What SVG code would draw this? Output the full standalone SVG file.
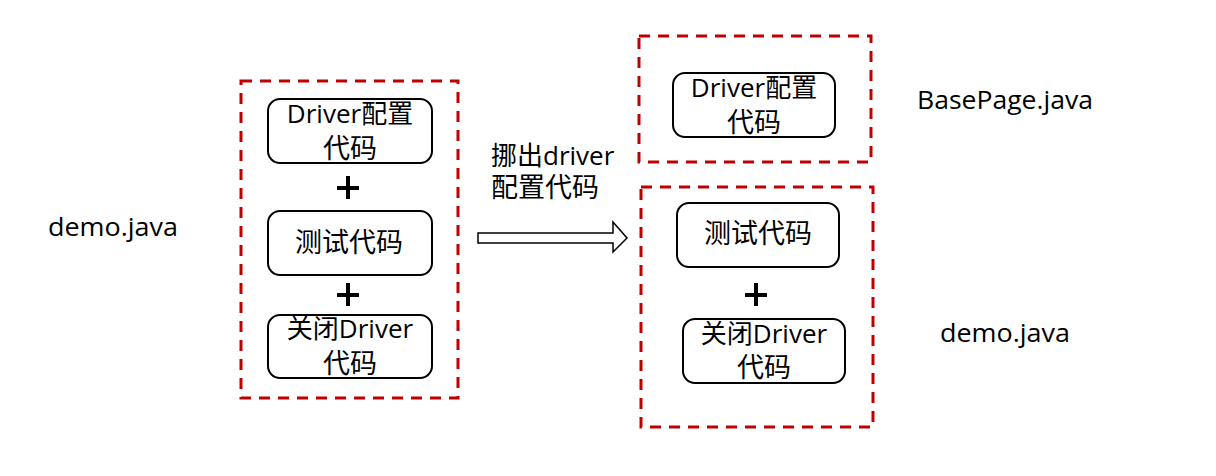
<svg xmlns="http://www.w3.org/2000/svg" width="1216" height="476" viewBox="0 0 1216 476">
<style>
.grp{fill:none;stroke:#C00000;stroke-width:3;stroke-dasharray:11 8}
.box{fill:#fff;stroke:#000;stroke-width:2}
.t{font-family:"Open Sans","Noto Sans CJK SC",sans-serif;font-size:26px;fill:#000;text-anchor:middle}
.c{font-size:27px}
.l{font-family:"Open Sans","Noto Sans CJK SC",sans-serif;font-size:26px;fill:#000}
.plus{stroke:#000;stroke-width:4}
</style>
<rect width="1216" height="476" fill="#fff"/>
<g id="left-group">
<rect class="grp" x="241" y="81" width="217" height="317"/>
</g>
<g id="right-top-group">
<rect class="grp" x="639" y="36" width="232" height="126"/>
</g>
<g id="right-bottom-group">
<rect class="grp" x="641" y="187" width="232" height="240"/>
</g>
<g id="l-driver-config">
<rect class="box" x="268" y="99" width="164" height="64" rx="12"/>
<text class="t" x="350" y="123">Driver配置</text>
<text class="t c" x="350" y="158">代码</text>
</g>
<g id="l-plus1"><path class="plus" d="M337 188H359M348 176V199"/></g>
<g id="l-test">
<rect class="box" x="268" y="211" width="164" height="64" rx="12"/>
<text class="t c" x="349" y="252">测试代码</text>
</g>
<g id="l-plus2"><path class="plus" d="M337 295H359M348 283V306"/></g>
<g id="l-close">
<rect class="box" x="268" y="315" width="164" height="63" rx="12"/>
<text class="t" x="350" y="338">关闭Driver</text>
<text class="t c" x="350" y="373">代码</text>
</g>
<g id="r-driver-config">
<rect class="box" x="673" y="73" width="162" height="64" rx="12"/>
<text class="t" x="754" y="97">Driver配置</text>
<text class="t c" x="754" y="132">代码</text>
</g>
<g id="r-test">
<rect class="box" x="677" y="203" width="162" height="64" rx="12"/>
<text class="t c" x="758" y="243">测试代码</text>
</g>
<g id="r-plus"><path class="plus" d="M745 295H767M756 283V306"/></g>
<g id="r-close">
<rect class="box" x="683" y="319" width="162" height="64" rx="12"/>
<text class="t" x="764" y="343">关闭Driver</text>
<text class="t c" x="764" y="377">代码</text>
</g>
<g id="labels">
<text class="l" x="48" y="236" textLength="130" lengthAdjust="spacingAndGlyphs">demo.java</text>
<text class="l" x="917" y="109" textLength="176" lengthAdjust="spacingAndGlyphs">BasePage.java</text>
<text class="l" x="940" y="342" textLength="130" lengthAdjust="spacingAndGlyphs">demo.java</text>
</g>
<g id="connectors">
<polygon points="478,233 613,233 613,222 627,238 613,252 613,243 478,243" fill="#fff" stroke="#000" stroke-width="1.5"/>
<text class="l"><tspan x="491" y="165">挪出driver</tspan><tspan class="c" x="491" y="197">配置代码</tspan></text>
</g>
</svg>
